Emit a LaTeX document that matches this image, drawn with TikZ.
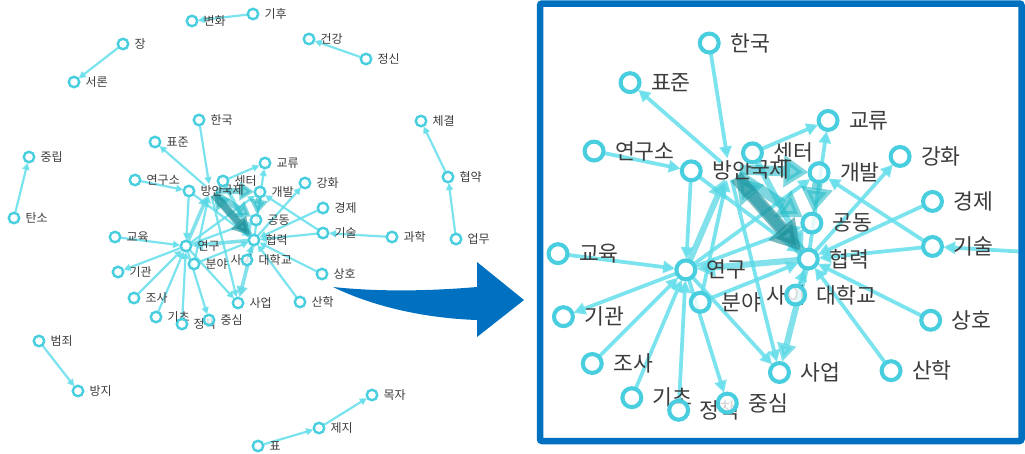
\documentclass[tikz,border=0pt]{standalone}
\usepackage{fontspec}
\setmainfont{Noto Sans CJK KR}
\usetikzlibrary{arrows.meta}
\definecolor{ringc}{RGB}{72,206,222}
\definecolor{edgec}{RGB}{100,222,235}
\definecolor{tealc}{RGB}{40,188,200}
\definecolor{darkc}{RGB}{30,140,150}
\definecolor{txtc}{RGB}{60,60,60}
\definecolor{bigblue}{RGB}{0,112,192}
\newcommand\F{1}
\tikzset{
 hid/.style={circle,minimum size=12pt,inner sep=0pt,outer sep=0pt},
 vx/.style={circle,minimum size=10.5pt,inner sep=0pt,draw=ringc,line width=\F*2.4pt,fill=white,fill opacity=0.8},
 lb/.style={anchor=west,inner sep=0pt,text=txtc,font=\fontsize{12}{14}\selectfont},
 ed/.style={draw=edgec,line width=\F*2.2pt,opacity=0.85,-{Triangle[length=0pt 3.2,width=0pt 3.2]}},
 em/.style={draw=edgec!80!tealc,line width=\F*3.6pt,opacity=0.75,-{Triangle[length=0pt 3,width=0pt 3]}},
 et/.style={draw=tealc,line width=\F*6pt,opacity=0.6,-{Triangle[length=0pt 2.4,width=0pt 3]}},
 ek/.style={draw=darkc,line width=\F*8pt,opacity=0.6,-{Triangle[length=0pt 2.2,width=0pt 2.4]}},
 bigarrow/.style={fill=bigblue},
 frame/.style={draw=bigblue,line width=6.5pt,rounded corners=2pt},
}
\newcommand\vtA[4]{\node[hid] (#1) at (#2,#3) {};}
\newcommand\vtB[4]{\node[lb] (#1-l) at ({#2+11.5},#3) {#4};}
\newcommand\vtC[4]{\node[vx] (#1-c) at (#1) {};}
\newcommand\gobblefour[4]{}
\newcommand\nodelist{%
 \vt{hanguk}{199}{120}{한국}%
 \vt{pyojun}{155}{142}{표준}%
 \vt{yeonguso}{135}{180}{연구소}%
 \vt{bangan}{189}{191}{방안}%
 \vh{gukje}{210}{190}{국제}%
 \vt{senteo}{223}{181}{센터}%
 \vt{gyoryu}{265}{163}{교류}%
 \vt{gaebal}{260}{192}{개발}%
 \vt{ganghwa}{305}{183}{강화}%
 \vt{gyeongje}{323}{208}{경제}%
 \vt{gongdong}{256}{220}{공동}%
 \vt{hyeom}{254}{240}{협력}%
 \vt{gisul}{323}{233}{기술}%
 \vt{gwahak}{392}{237}{과학}%
 \vt{yeongu}{186}{246}{연구}%
 \vt{gyoyuk}{115}{237}{교육}%
 \vt{gigwan}{118}{272}{기관}%
 \vt{bunya}{194}{264}{분야}%
 \vh{sai}{219}{260}{사이}%
 \vt{daehak}{247}{260}{대학교}%
 \vt{sangho}{322}{274}{상호}%
 \vt{sanhak}{300}{302}{산학}%
 \vt{saeop}{238}{303}{사업}%
 \vt{josa}{134}{298}{조사}%
 \vt{gicho}{156}{317}{기초}%
 \vt{jeongchaek}{182}{324}{정책}%
 \vt{jungsim}{209}{320}{중심}%
 \vt{byeonhwa}{192}{21}{변화}%
 \vt{gihu}{253}{14}{기후}%
 \vt{jang}{123}{44}{장}%
 \vt{seoron}{74}{82}{서론}%
 \vt{geongang}{309}{39}{건강}%
 \vt{jeongsin}{366}{59}{정신}%
 \vt{chegyeol}{421}{121}{체결}%
 \vt{hyeobyak}{448}{177}{협약}%
 \vt{eommu}{456}{239}{업무}%
 \vt{jungnip}{29}{157}{중립}%
 \vt{tanso}{14}{218}{탄소}%
 \vt{beomjoe}{39}{341}{범죄}%
 \vt{bangji}{78}{391}{방지}%
 \vt{mokja}{372}{395}{목자}%
 \vt{jeji}{319}{428}{제지}%
 \vt{pyo}{258}{446}{표}%
}
\newcommand\edges{%
 \draw[ed] (gihu) -- (byeonhwa);
 \draw[ed] (jang) -- (seoron);
 \draw[ed] (jeongsin) -- (geongang);
 \draw[ed] (tanso) -- (jungnip);
 \draw[ed] (eommu) -- (hyeobyak);
 \draw[ed] (hyeobyak) -- (chegyeol);
 \draw[ed] (beomjoe) -- (bangji);
 \draw[ed] (pyo) -- (jeji);
 \draw[ed] (jeji) -- (mokja);
 \draw[ed] (gwahak) -- (gisul);
 \draw[ed] (hanguk) -- (gukje);
 \draw[ed] (gukje) -- (pyojun);
 \draw[ed] (yeonguso) -- (bangan);
 \draw[ed] (senteo) -- (gyoryu);
 \draw[ed] (hyeom) -- (gyoryu);
 \draw[ed] (gisul) -- (gaebal);
 \draw[ed] (hyeom) -- (ganghwa);
 \draw[ed] (gyeongje) -- (hyeom);
 \draw[ed] (gisul) -- (hyeom);
 \draw[ed] (sangho) -- (hyeom);
 \draw[ed] (sanhak) -- (hyeom);
 \draw[ed] (yeongu) -- (jungsim);
 \draw[ed] (jeongchaek) -- (yeongu);
 \draw[ed] (gicho) -- (yeongu);
 \draw[ed] (josa) -- (yeongu);
 \draw[ed] (yeongu) -- (gigwan);
 \draw[ed] (gyoyuk) -- (yeongu);
 \draw[ed] (gukje) -- (saeop);
 \draw[ed] (yeongu) -- (saeop);
 \draw[ed] (bangan) -- (yeongu);
 \draw[ed] (bunya) -- (gukje);
 \draw[ed] (daehak) -- (hyeom);
 \draw[ed] (yeongu) -- (gaebal);
 \draw[ed] (yeongu) -- (gongdong);
 \draw[ed] (bunya) -- (hyeom);
 \draw[ed] (bangan) -- (hyeom);
 \draw[em] (hyeom) -- (saeop);
 \draw[em] (yeongu) -- (gukje);
 \draw[em] (hyeom) -- (yeongu);
 \draw[em] (senteo) -- (hyeom);
 \draw[et] (gukje) -- (gaebal);
 \draw[et] (gaebal) -- (gongdong);
 \draw[et] (gukje) -- (gongdong);
 \draw[et] (hyeom) -- (gukje);
 \draw[ek] (gukje) -- (hyeom);
}
\newcommand\net{%
 \let\vt\vtA \let\vh\vtA \nodelist
 \edges
 \let\vt\vtB \let\vh\vtB \nodelist
 \let\vt\vtC \let\vh\gobblefour \nodelist
}
\begin{document}
\begin{tikzpicture}[x=1pt,y=-1pt]
\useasboundingbox (0,0) rectangle (1025,453);
\begin{scope}
 \net
\end{scope}
\begin{scope}
 \clip (543,7) rectangle (1018,439);
 \renewcommand\F{1.7}
 \begin{scope}[shift={(351,-173)},scale=1.8,transform shape]
  \net
 \end{scope}
\end{scope}
\draw[frame] (540,3.5) rectangle (1021.5,441);
\fill[bigarrow] (333,287) .. controls (380,292) and (430,291) .. (477,287)
  -- (477,262) -- (524,300) -- (477,337) -- (477,320)
  .. controls (420,318) and (370,305) .. (333,287) -- cycle;
\end{tikzpicture}
\end{document}
